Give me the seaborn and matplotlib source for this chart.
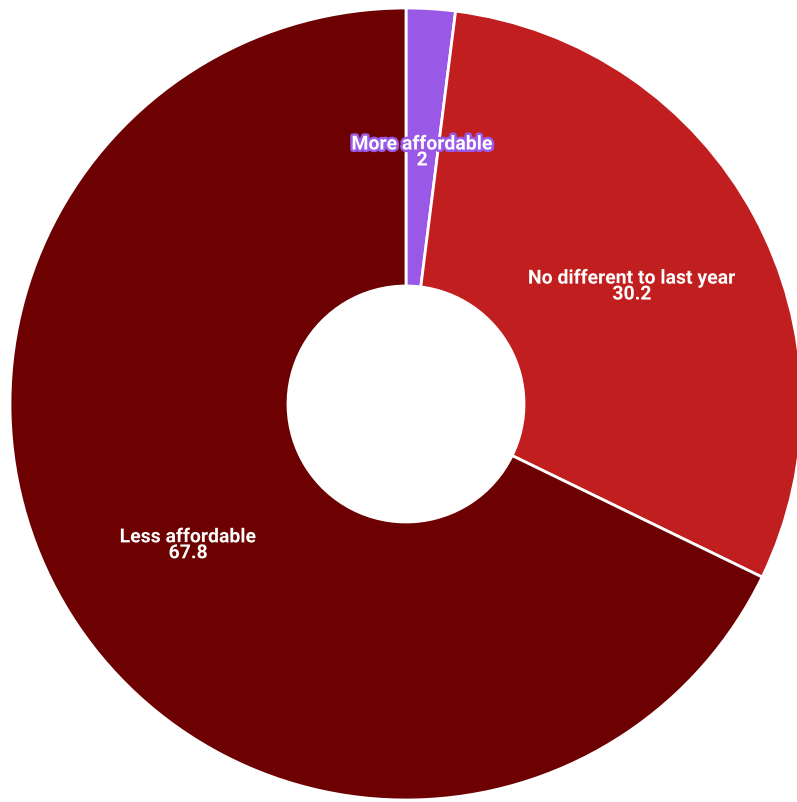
import matplotlib
matplotlib.use("Agg")
import matplotlib.pyplot as plt
import matplotlib.patheffects as pe
import seaborn as sns
import numpy as np

categories = ["More affordable", "No different to last year", "Less affordable"]
values = [2, 30.2, 67.8]
colors = ["#9a58e6", "#c11f1f", "#6d0000"]

sns.set_theme(style="white")
plt.rcParams['font.family'] = ['Roboto', 'DejaVu Sans']

W, H = 797, 802
fig = plt.figure(figsize=(W / 100, H / 100), dpi=100)
ax = fig.add_axes([0, 0, 1, 1])
ax.axis("off")

cx, cy, R = 406, 404, 396  # pixel centre (from top) and radius
inner = 118 / R

wedges, _ = ax.pie(values, colors=colors, startangle=90, counterclock=False,
                   radius=1, wedgeprops=dict(width=1 - inner, edgecolor="white", linewidth=2))

label_r = (1 + inner) / 2
total = sum(values)
cum = 0
for cat, v, c in zip(categories, values, colors):
    mid = (cum + v / 2) / total
    cum += v
    ang = np.deg2rad(90 - mid * 360)
    x, y = label_r * np.cos(ang), label_r * np.sin(ang) - 5 / R
    ax.text(x, y, f"{cat}\n{v:g}", ha="center", va="center", color="white",
            fontsize=14, fontweight="bold", linespacing=0.85,
            path_effects=[pe.withStroke(linewidth=3.5, foreground=c)])

ax.set_xlim(-cx / R, (W - cx) / R)
ax.set_ylim(-(H - cy) / R, cy / R)
ax.set_aspect("auto")

fig.savefig("out.png", dpi=100)
